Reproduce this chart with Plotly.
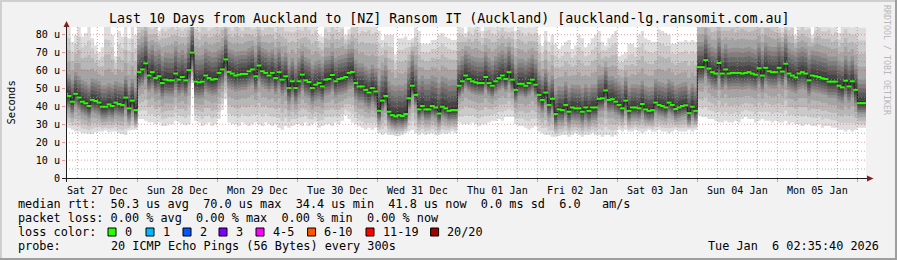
import numpy as np
import pandas as pd
import plotly.graph_objects as go

# ---------------- data (hourly columns, local time) ----------------
FIRST_COLUMN = "2025-12-27 02:00"
VIEW_RANGE = ["2025-12-27 02:35:40", "2026-01-06 02:35:40"]

median_rtt = [
    # Dec 27 02:00-23:00
    47.0, 45.8, 42.6, 47.0, 44.9, 42.6, 41.7, 40.2, 43.6, 43.0, 42.1, 39.8, 39.8, 41.1, 40.2, 42.1, 41.3, 40.8, 44.9, 38.9, 43.2, 37.9,
    # Dec 28
    59.1, 60.6, 64.0, 57.2, 59.1, 55.8, 56.8, 53.0, 54.9, 54.5, 54.5, 58.3, 54.9, 56.4, 54.5, 60.2, 70.0, 53.8, 53.4, 53.8, 57.2, 55.8, 54.9, 55.3,
    # Dec 29
    58.7, 60.6, 66.2, 59.2, 58.3, 57.2, 57.7, 58.1, 58.1, 59.6, 60.6, 56.8, 62.8, 59.6, 58.7, 57.2, 58.7, 55.8, 59.1, 54.9, 56.8, 50.2, 54.0, 50.2,
    # Dec 30
    54.0, 57.7, 54.5, 53.6, 50.2, 52.1, 53.0, 51.1, 54.9, 55.3, 57.5, 54.0, 55.3, 55.8, 56.4, 58.7, 59.2, 53.0, 51.1, 51.1, 49.2, 47.7, 50.2, 48.3,
    # Dec 31
    37.5, 43.2, 45.8, 37.0, 35.1, 34.4, 35.1, 34.6, 35.7, 44.5, 51.5, 46.4, 38.3, 40.2, 38.3, 38.3, 40.2, 39.4, 36.0, 39.8, 38.9, 37.5, 37.9, 37.9,
    # Jan 01
    51.5, 54.0, 57.2, 55.3, 54.0, 53.4, 53.0, 53.0, 56.4, 53.0, 51.5, 54.0, 55.8, 57.2, 55.3, 59.1, 54.9, 49.2, 52.6, 52.6, 51.5, 53.0, 54.9, 52.1,
    # Jan 02
    46.4, 43.6, 47.7, 40.8, 44.2, 35.7, 38.3, 37.9, 40.8, 37.0, 39.4, 38.9, 38.9, 37.0, 39.4, 37.5, 39.4, 39.4, 44.2, 44.5, 48.9, 43.6, 44.0, 42.6,
    # Jan 03
    40.8, 38.9, 43.2, 37.5, 39.4, 39.4, 38.9, 41.3, 38.3, 37.5, 37.9, 42.1, 40.8, 40.2, 39.4, 42.1, 40.8, 38.5, 39.4, 40.2, 40.6, 36.2, 39.8, 37.5,
    # Jan 04
    61.9, 61.9, 65.8, 61.1, 59.1, 58.3, 64.2, 58.3, 60.6, 58.3, 58.7, 58.7, 58.7, 58.3, 58.7, 59.1, 58.3, 57.7, 61.3, 57.2, 61.5, 59.6, 59.1, 59.1,
    # Jan 05
    61.5, 59.4, 63.8, 58.3, 57.2, 56.2, 58.3, 59.1, 58.3, 54.5, 57.2, 56.8, 56.4, 55.7, 55.3, 53.8, 53.8, 53.8, 51.5, 50.6, 54.3, 51.1, 54.0, 49.2,
    # Jan 06
    41.8, 41.8, 41.8,
]

# fastest ping of each column (bottom of the smoke)
ping_min = [
    29, 28, 27, 26, 26, 25, 25, 24.5, 24.5, 25.5, 26, 26, 26.5, 25.5, 26, 26, 25, 24.5, 24, 26.5, 27, 27,
    33, 33, 32, 31, 31, 30, 31, 29, 29, 30, 30, 32, 31, 30, 29.5, 30, 53, 32, 31, 29, 30, 31, 29, 30,
    33, 38, 44, 31, 30, 30, 29, 31, 30, 29, 30, 31, 30, 29, 31, 30, 29, 30, 28, 27, 29, 28, 29, 30,
    30, 29, 31, 29, 30, 31, 28, 29, 30, 30, 29, 31, 30, 32, 35, 33, 31, 30, 29, 28, 27, 28, 27, 28,
    25, 24, 25, 24, 24, 23.5, 23.5, 24, 25, 26, 27, 25, 24, 25, 24, 24.5, 25, 24, 24, 25, 24.5, 25, 26, 25,
    31, 30, 30, 30, 31, 30, 29, 30, 30, 31, 32, 32, 33, 32, 34, 34, 34, 30, 29, 29, 28, 27, 28, 29,
    26, 25, 24, 24, 23, 23, 23.5, 24, 24, 23, 24, 25, 24, 23, 24, 24, 25, 24, 24, 23, 24, 24, 23, 24,
    27, 26, 27, 26, 26, 27, 26, 25, 26, 27, 26, 26, 27, 26, 26, 25, 26, 27, 26, 26, 26, 27, 26, 27,
    35, 34, 34, 33, 33, 32, 31, 31, 32, 31, 31, 32, 31, 33, 34, 33, 33, 31, 32, 33, 32, 32, 31, 32,
    31, 31, 32, 30, 31, 30, 30, 29, 30, 30, 29, 29, 30, 28, 29, 29, 28, 28, 27, 27, 26, 27, 26, 27,
    28, 28, 28,
]

# slowest ping of each column (top of the smoke)
ping_max = [
    86, 85, 76, 80, 86, 79, 81, 85, 78, 74, 70, 73, 86, 85, 80, 68, 82, 79, 86, 78, 85, 80,
    88, 90, 92, 88, 86, 90, 82, 88, 86, 88, 90, 86, 88, 86, 88, 90, 95, 88, 86, 90, 88, 86, 88, 90,
    88, 92, 95, 88, 86, 90, 88, 86, 90, 88, 86, 88, 90, 86, 88, 90, 88, 86, 88, 90, 86, 88, 86, 88,
    88, 86, 90, 88, 86, 88, 80, 79, 88, 86, 90, 88, 86, 88, 80, 83, 88, 90, 86, 88, 88, 90, 86, 88,
    82, 77, 80, 80, 80, 69, 78, 78, 79, 77, 78, 84, 82, 75, 75, 75, 77, 77, 80, 81, 79, 78, 77, 77,
    86, 84, 81, 86, 84, 88, 86, 82, 86, 88, 86, 84, 86, 88, 86, 84, 86, 82, 88, 86, 84, 86, 84, 86,
    80, 74, 82, 76, 80, 75, 72, 74, 76, 77, 72, 74, 80, 78, 73, 75, 78, 80, 82, 76, 74, 78, 80, 82,
    68, 69, 70, 75, 75, 73, 80, 82, 78, 77, 76, 76, 83, 82, 81, 80, 75, 75, 76, 76, 77, 76, 77, 76,
    92, 94, 95, 92, 90, 92, 94, 92, 90, 92, 94, 90, 92, 94, 92, 90, 92, 94, 92, 90, 92, 94, 92, 90,
    86, 84, 88, 86, 88, 80, 86, 88, 86, 88, 80, 86, 88, 86, 86, 88, 84, 86, 81, 86, 88, 86, 84, 86,
    84, 84, 84,
]

# per-day core spread: median - 5th ping, 16th ping - median (Dec 27 .. Jan 06)
core_below = [7, 9, 9, 9, 6, 7, 7, 6, 9, 9, 6]
core_above = [12, 15, 13, 13, 17, 14, 13, 13, 14, 14, 13]

y_tick_values = [0, 10, 20, 30, 40, 50, 60, 70, 80]
y_tick_labels = ["0", "10 u", "20 u", "30 u", "40 u", "50 u", "60 u", "70 u", "80 u"]

loss_labels = ["0", "1", "2", "3", "4-5", "6-10", "11-19", "20/20"]
loss_colors = ["#26ff00", "#00b8ff", "#0059ff", "#7e00ff", "#ff00ff", "#ff5500", "#ff0000", "#a10000"]

title = "Last 10 Days from Auckland to [NZ] Ransom IT (Auckland) [auckland-lg.ransomit.com.au]"
legend_rtt = "median rtt:  50.3 us avg  70.0 us max  34.4 us min  41.8 us now  0.0 ms sd  6.0   am/s"
legend_loss = "packet loss: 0.00 % avg  0.00 % max  0.00 % min  0.00 % now"
probe_text = "20 ICMP Echo Pings (56 Bytes) every 300s"
stamp_text = "Tue Jan  6 02:35:40 2026"

# ---------------- build smoke ----------------
W, H = 897, 260
L, R, T, B = 66, 31, 27, 82
PW, PH = W - L - R, H - T - B
MONO = "DejaVu Sans Mono"

med = np.array(median_rtt, float)
lo = np.array(ping_min, float)
hi = np.array(ping_max, float)
n = len(med)
edges = pd.date_range(FIRST_COLUMN, periods=n + 1, freq="h")
centers = edges[:-1] + pd.Timedelta(minutes=30)
day = np.array((edges[:-1].normalize() - pd.Timestamp("2025-12-27")).days)
q_lo = np.clip(med - np.array(core_below, float)[day], lo, med)
q_hi = np.clip(med + np.array(core_above, float)[day], med, hi)

pings = np.zeros((21, n))
for i in range(1, 6):
    pings[i] = lo + (q_lo - lo) * (i - 1) / 4
for i in range(6, 11):
    pings[i] = q_lo + (med - q_lo) * (i - 5) / 5.5
for j in range(11, 16):
    pings[j] = med + (q_hi - med) * (j - 10.5) / 5.5
for j in range(16, 21):
    pings[j] = q_hi + (hi - q_hi) * (j - 16) / 4


def ext(a):
    return np.append(a, a[-1])


fig = go.Figure()
for i in range(1, 11):
    g = int(190 / 10 * (10 - i)) + 50
    col = f"rgb({g},{g},{g})"
    fig.add_trace(go.Scatter(x=edges, y=ext(pings[i]), mode="lines", line=dict(width=0, shape="hv"),
                             hoverinfo="skip", showlegend=False))
    fig.add_trace(go.Scatter(x=edges, y=ext(pings[21 - i]), mode="lines", line=dict(width=0, shape="hv"),
                             fill="tonexty", fillcolor=col, hoverinfo="skip", showlegend=False))

fig.add_trace(go.Scatter(x=edges, y=ext(med), mode="lines", line=dict(width=1, color="#202020", shape="hv"),
                         hoverinfo="skip", showlegend=False))
fig.add_trace(go.Scatter(x=centers, y=med, mode="markers",
                         marker=dict(symbol="line-ew", size=3.4, line=dict(width=2, color=loss_colors[0])),
                         hoverinfo="skip", showlegend=False))


def px(xp):
    return (xp - L) / PW


def py(yp):
    return (T + PH - yp) / PH


shapes = []
GRID = "rgba(143,143,143,0.7)"
MGRID = "rgba(222,79,79,0.55)"
DASH = "1px,2px"
for t in pd.date_range("2025-12-27 06:00", "2026-01-06 00:00", freq="6h"):
    shapes.append(dict(type="line", xref="x", yref="paper", x0=t, x1=t, y0=0, y1=1, layer="above",
                       line=dict(color=MGRID if t.hour == 0 else GRID, width=1, dash=DASH)))
for v in range(5, 85, 5):
    shapes.append(dict(type="line", xref="paper", yref="y", x0=0, x1=1, y0=v, y1=v, layer="above",
                       line=dict(color=MGRID if v % 10 == 0 else GRID, width=1, dash=DASH)))

AXIS = "#1f1f1f"
ARROW = "#801f1f"
# axis lines
shapes.append(dict(type="line", xref="paper", yref="paper", x0=px(62), x1=px(868), y0=py(178.5), y1=py(178.5),
                   layer="above", line=dict(color=AXIS, width=1)))
shapes.append(dict(type="line", xref="paper", yref="paper", x0=px(66.5), x1=px(66.5), y0=py(182), y1=py(25),
                   layer="above", line=dict(color=AXIS, width=1)))
# arrows
shapes.append(dict(type="path", xref="paper", yref="paper", layer="above", fillcolor=ARROW, line=dict(width=0),
                   path=f"M{px(873.5)},{py(178.5)} L{px(867)},{py(175.5)} L{px(867)},{py(181.5)} Z"))
shapes.append(dict(type="path", xref="paper", yref="paper", layer="above", fillcolor=ARROW, line=dict(width=0),
                   path=f"M{px(66.5)},{py(21)} L{px(63.5)},{py(27)} L{px(69.5)},{py(27)} Z"))
# frame
shapes.append(dict(type="line", xref="paper", yref="paper", x0=px(0), x1=px(W), y0=py(1), y1=py(1),
                   line=dict(color="#cfcfcf", width=2)))
shapes.append(dict(type="line", xref="paper", yref="paper", x0=px(1), x1=px(1), y0=py(0), y1=py(H),
                   line=dict(color="#cfcfcf", width=2)))
shapes.append(dict(type="line", xref="paper", yref="paper", x0=px(0), x1=px(W), y0=py(H - 1), y1=py(H - 1),
                   line=dict(color="#9e9e9e", width=2)))
shapes.append(dict(type="line", xref="paper", yref="paper", x0=px(W - 1), x1=px(W - 1), y0=py(0), y1=py(H),
                   line=dict(color="#9e9e9e", width=2)))

annotations = []


def text(x, y, s, size=11.83, anchor="left", color="#000000", angle=0):
    annotations.append(dict(x=px(x), y=py(y), xref="paper", yref="paper", text=s.replace(" ", "\u00a0"),
                            showarrow=False, xanchor=anchor, yanchor="middle", textangle=angle,
                            font=dict(family=MONO, size=size, color=color)))


text(448.5, 18.5, title, size=13.3, anchor="center")
text(887, 60, "RRDTOOL / TOBI OETIKER", size=8.3, anchor="center", color="#b8b8b8", angle=90)
text(10, 102.5, "Seconds", size=10.5, anchor="center", angle=-90)
text(16, 204, legend_rtt)
text(16, 218, legend_loss)
text(16, 232, "loss color:")
text(16, 246, "probe:")
text(108.5, 246, probe_text)
text(881, 246, stamp_text, anchor="right")

square_x = [108, 146, 183, 219, 256, 307.6, 366, 430.6]
for sx, lab, c in zip(square_x, loss_labels, loss_colors):
    shapes.append(dict(type="rect", xref="paper", yref="paper", x0=px(sx), x1=px(sx + 8), y0=py(228), y1=py(236),
                       fillcolor=c, line=dict(color="#000000", width=1)))
    text(sx + 14.5, 232, lab)

fig.update_layout(
    width=W, height=H, margin=dict(l=L, r=R, t=T, b=B, pad=0),
    paper_bgcolor="#f2f2f2", plot_bgcolor="#ffffff",
    shapes=shapes, annotations=annotations, showlegend=False,
    xaxis=dict(type="date", range=VIEW_RANGE, showgrid=False, zeroline=False, showline=False,
               tick0="2025-12-27", dtick=86400000, ticklabelmode="period", tickformat="%a %d %b",
               ticks="outside", ticklen=3, tickcolor=MGRID,
               tickfont=dict(family=MONO, size=10.1, color="#000000")),
    yaxis=dict(range=[0, 84.3], showgrid=False, zeroline=False, showline=False,
               tickmode="array", tickvals=y_tick_values, ticktext=y_tick_labels,
               ticks="outside", ticklen=3, tickcolor=MGRID,
               tickfont=dict(family=MONO, size=10.1, color="#000000")),
)

fig.write_html("out.html")
